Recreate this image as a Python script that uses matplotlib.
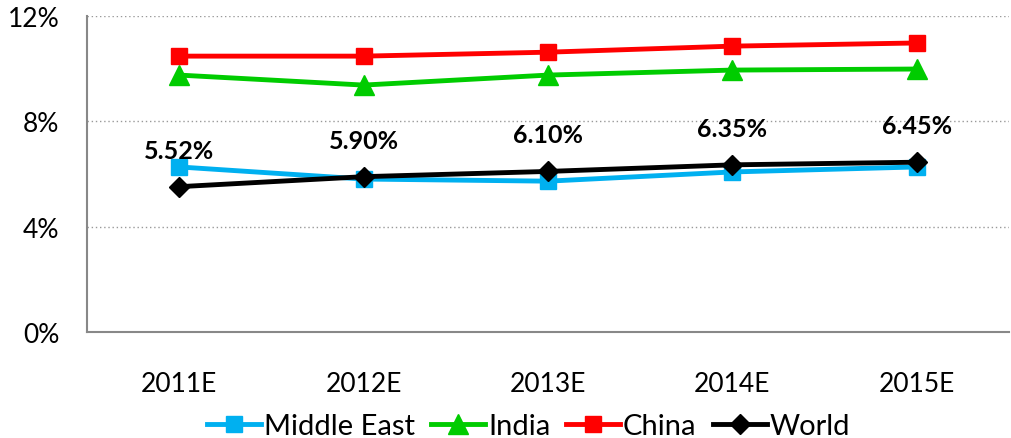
import matplotlib
matplotlib.use('Agg')
import matplotlib.pyplot as plt
import numpy as np

years = ['2011E', '2012E', '2013E', '2014E', '2015E']
middle_east = [6.27, 5.81, 5.73, 6.08, 6.27]
india = [9.76, 9.38, 9.76, 9.95, 9.99]
china = [10.48, 10.48, 10.63, 10.86, 10.98]
world = [5.52, 5.90, 6.10, 6.35, 6.45]
world_labels = ['5.52%', '5.90%', '6.10%', '6.35%', '6.45%']

plt.rcParams['font.family'] = ['Lato', 'DejaVu Sans']

fig = plt.figure(figsize=(10.11, 4.39), dpi=100)
ax = fig.add_axes([0.086, 0.2415, 0.912, 0.7195])

x = np.arange(len(years))

ax.plot(x, middle_east, color='#00b0f0', lw=3.5, marker='s', ms=12, label='Middle East', zorder=3)
ax.plot(x, india, color='#00cc00', lw=3.5, marker='^', ms=14, label='India', zorder=3)
ax.plot(x, china, color='#ff0000', lw=3.5, marker='s', ms=12, label='China', zorder=3)
ax.plot(x, world, color='black', lw=3.5, marker='D', ms=10, label='World', zorder=4)

# labels above the world line
for xi, yi, t in zip(x, world, world_labels):
    ax.annotate(t, (xi, yi), xytext=(0, 18), textcoords='offset points',
                ha='center', va='bottom', fontsize=18, fontweight='bold')

ax.set_xlim(-0.5, len(years) - 0.5)
ax.set_ylim(0, 12)
ax.set_yticks([0, 4, 8, 12])
ax.set_yticklabels(['0%', '4%', '8%', '12%'])
ax.set_xticks(x)
ax.set_xticklabels(years)
ax.tick_params(axis='both', length=0, labelsize=19)
ax.tick_params(axis='x', pad=28)
ax.tick_params(axis='y', pad=20)

ax.grid(axis='y', linestyle=(0, (1, 2)), color='#999999', lw=1)
ax.set_axisbelow(True)
for s in ['top', 'right']:
    ax.spines[s].set_visible(False)
for s in ['left', 'bottom']:
    ax.spines[s].set_color('#888888')
    ax.spines[s].set_linewidth(1.5)

ax.legend(loc='upper center', bbox_to_anchor=(0.479, -0.22), ncol=4, frameon=False,
          fontsize=21, handlelength=1.85, handletextpad=0.1, columnspacing=0.55,
          borderaxespad=0)

fig.savefig('out.png', dpi=100)
